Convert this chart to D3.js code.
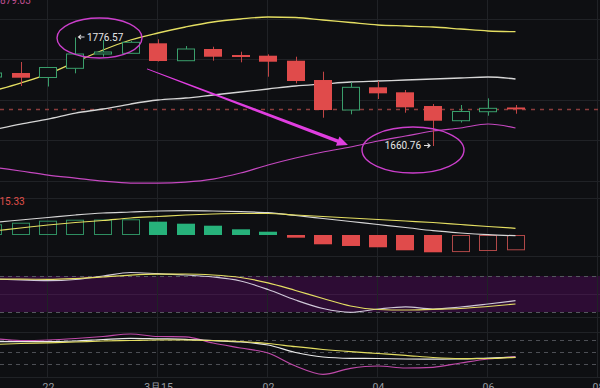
<!DOCTYPE html>
<html><head><meta charset="utf-8">
<script src="https://cdn.jsdelivr.net/npm/d3@7"></script>
<style>html,body{margin:0;padding:0;background:#0e0f12;overflow:hidden}svg{display:block}</style>
</head><body><svg id="c" width="600" height="388"></svg>
<script>
// ---------- DATA ----------
const times = ["2024-03-14 21:00","2024-03-14 21:30","2024-03-14 22:00","2024-03-14 22:30","2024-03-14 23:00","2024-03-14 23:30","2024-03-15 00:00","2024-03-15 00:30","2024-03-15 01:00","2024-03-15 01:30","2024-03-15 02:00","2024-03-15 02:30","2024-03-15 03:00","2024-03-15 03:30","2024-03-15 04:00","2024-03-15 04:30","2024-03-15 05:00","2024-03-15 05:30","2024-03-15 06:00","2024-03-15 06:30"];
const open  = [1734.41,1738.68,1733.88,1743.70,1758.96,1759.71,1770.38,1751.81,1764.30,1757.89,1757.15,1751.81,1731.21,1699.19,1723.42,1718.08,1703.46,1687.77,1697.38,1701.90];
const close = [1738.68,1733.67,1744.55,1758.96,1761.10,1771.45,1751.49,1764.30,1756.08,1755.76,1750.74,1730.14,1699.19,1723.42,1717.01,1702.07,1687.77,1697.59,1701.00,1699.90];
const high  = [1740.82,1750.42,1745.09,1776.57,1773.91,1772.84,1774.65,1767.50,1766.75,1761.42,1758.64,1756.08,1740.07,1728.76,1730.14,1720.54,1705.59,1704.53,1711.68,1704.53];
const low   = [1732.28,1724.81,1724.27,1738.36,1756.08,1759.50,1750.96,1751.49,1751.81,1750.10,1734.73,1727.69,1690.97,1694.60,1710.93,1696.31,1660.76,1685.85,1693.11,1695.24];
const bollUp  = [1719.47,1728.01,1737.61,1750.42,1763.23,1773.91,1781.38,1787.78,1793.12,1796.32,1798.45,1797.92,1795.25,1792.58,1789.92,1788.85,1787.78,1785.65,1783.51,1782.76];
const bollMid = [1677.84,1684.25,1689.58,1695.99,1700.26,1705.59,1709.86,1712.00,1715.20,1718.40,1721.60,1724.81,1726.94,1729.08,1730.14,1731.21,1732.28,1733.35,1734.41,1732.28];
const bollLow = [1638.35,1634.08,1629.81,1626.60,1623.41,1621.27,1621.27,1622.34,1625.54,1631.95,1640.48,1647.96,1654.36,1659.70,1666.10,1671.44,1676.77,1679.98,1684.25,1679.98];
const macdHist = [4.10,4.71,5.48,5.86,5.92,6.02,5.10,4.33,3.56,2.18,1.26,-1.03,-3.56,-4.21,-4.71,-5.86,-6.63,-6.55,-6.13,-5.86];
const macdDif  = [4.79,5.75,6.70,7.66,8.43,8.81,9.20,9.31,9.20,8.93,8.54,7.47,6.32,5.17,4.02,2.87,1.65,0.77,0.11,-0.27];
const macdDea  = [1.53,2.68,3.83,4.79,5.56,6.51,7.09,7.66,8.05,8.24,8.24,7.66,7.09,6.51,5.94,5.36,4.79,4.02,3.26,2.57];
const oscA = [75.0,74.67,74.5,75.83,78.33,81.33,83.0,83.33,81.67,77.5,68.67,55.83,42.5,30.0,24.17,23.33,24.5,25.83,29.17,33.33];
const oscB = [75.0,73.33,72.17,74.17,80.0,85.83,83.83,81.67,78.33,71.67,57.5,40.0,25.83,19.5,25.0,28.67,25.0,28.33,33.33,38.83];
const kdjK = [75.75,75.75,75.75,77.5,81.25,84.25,83,81.75,78.25,75,67.5,48.75,37.5,34.25,33.75,32.5,32,32.5,35,36.75];
const kdjD = [68.75,71.25,73,75,77.5,78.75,80,80,78.75,76.25,71.25,63.25,56.25,50.75,46.25,41.75,36.25,33.5,33.75,36.75];
const kdjJ = [83.75,78.75,80,83.75,88.75,95,88.75,88,72.5,60,47.5,15,-5.75,9.25,15,10,11.75,22.5,32.5,38.25];
const tickTimes  = ["2024-03-14 22:00","2024-03-15 00:00","2024-03-15 02:00","2024-03-15 04:00","2024-03-15 06:00","2024-03-15 08:00"];
const tickLabels = ["22","3月15","02","04","06","08"];
const priceGrid = [1796.3,1753.6,1709.9,1667.2,1623.4];
const macdGrid = [14.2,-8.05];
const oscDash = [80,20];
const kdjDash = [80,50,20];
const maxLabel = "1776.57", minLabel = "1660.76";
const topLabel = "1879.03", macdLabel = "15.33";

// ---------- SCALES ----------
const parse = d3.timeParse("%Y-%m-%d %H:%M");
const T = times.map(parse);
const svg = d3.select("#c");
const W = 600;
const x = d3.scaleTime().domain([parse("2024-03-14 21:00"), parse("2024-03-15 08:00")]).range([-7, 598]);
const y = d3.scaleLinear().domain([1608.5, 1816.6]).range([195, 0]);
const yM = d3.scaleLinear().domain([-8.05, 14.56]).range([256, 197]);
const yO = d3.scaleLinear().domain([0, 100]).range([324, 264]);
const yK = d3.scaleLinear().domain([0, 100]).range([372, 332]);
const step = x(T[1]) - x(T[0]);
const bw = Math.round(step * 0.67);

const BG = "#0e0f12", GRID = "#202226", RED = "#e04b4b", GREEN = "#3a9f6c", GFILL = "#27b27b";
const YEL = "#e4de62", WHT = "#d6d6d6", MAG = "#c548c0";
const FONT = "Roboto, sans-serif";

svg.append("rect").attr("width", 600).attr("height", 388).attr("fill", BG);

// purple zone
svg.append("rect").attr("x", 0).attr("width", W).attr("y", yO(80)).attr("height", yO(20) - yO(80)).attr("fill", "#2d0c34");
svg.append("line").attr("x1", 0).attr("x2", W).attr("y1", yO(50) + 0.5).attr("y2", yO(50) + 0.5).attr("stroke", "#3b1a42");

// grids
const g = svg.append("g");
tickTimes.forEach(t => {
  const xx = Math.round(x(parse(t))) - 0.5;
  g.append("line").attr("x1", xx).attr("x2", xx).attr("y1", 0).attr("y2", 378).attr("stroke", GRID);
});
priceGrid.forEach(p => {
  const yy = Math.round(y(p)) + 0.5;
  g.append("line").attr("x1", 0).attr("x2", W).attr("y1", yy).attr("y2", yy).attr("stroke", GRID);
});
macdGrid.forEach(p => {
  const yy = Math.round(yM(p)) + 0.5;
  g.append("line").attr("x1", 0).attr("x2", W).attr("y1", yy).attr("y2", yy).attr("stroke", GRID);
});
[ yO(11.7), yK(100), 377 ].forEach(v => {
  const yy = Math.round(v) + 0.5;
  g.append("line").attr("x1", 0).attr("x2", W).attr("y1", yy).attr("y2", yy).attr("stroke", GRID);
});
oscDash.forEach(v => {
  const yy = Math.round(yO(v)) + 0.5;
  g.append("line").attr("x1", 0).attr("x2", W).attr("y1", yy).attr("y2", yy).attr("stroke", "#55575e").attr("stroke-dasharray", "4,4");
});
kdjDash.forEach(v => {
  const yy = Math.round(yK(v)) + 0.5;
  g.append("line").attr("x1", 0).attr("x2", W).attr("y1", yy).attr("y2", yy).attr("stroke", "#4d4f55").attr("stroke-dasharray", "4,4");
});

// current price dashed line
const lastY = Math.round(y(close[close.length - 1])) + 0.5;
svg.append("line").attr("x1", 0).attr("x2", W).attr("y1", lastY).attr("y2", lastY)
  .attr("stroke", "#8a3c3c").attr("stroke-width", 1.3).attr("stroke-dasharray", "4,5");

// Bollinger lines
const lineOf = (arr, sc) => d3.line().x((d, i) => x(T[i])).y(d => sc(d)).curve(d3.curveMonotoneX)(arr);
svg.append("path").attr("d", lineOf(bollUp, y)).attr("fill", "none").attr("stroke", YEL).attr("stroke-width", 1.3);
svg.append("path").attr("d", lineOf(bollMid, y)).attr("fill", "none").attr("stroke", WHT).attr("stroke-width", 1.3);
svg.append("path").attr("d", lineOf(bollLow, y)).attr("fill", "none").attr("stroke", MAG).attr("stroke-width", 1.2);

// candles
const cg = svg.append("g");
T.forEach((t, i) => {
  const cx = Math.round(x(t));
  const up = close[i] >= open[i];
  const top = y(Math.max(open[i], close[i])), bot = y(Math.min(open[i], close[i]));
  const x0 = cx - bw / 2;
  if (up) {
    cg.append("line").attr("x1", cx + 0.5).attr("x2", cx + 0.5).attr("y1", y(high[i])).attr("y2", top).attr("stroke", GREEN);
    cg.append("line").attr("x1", cx + 0.5).attr("x2", cx + 0.5).attr("y1", bot).attr("y2", y(low[i])).attr("stroke", GREEN);
    cg.append("rect").attr("x", Math.round(x0) + 0.5).attr("y", top).attr("width", bw - 1).attr("height", Math.max(1, bot - top))
      .attr("fill", BG).attr("stroke", GREEN).attr("stroke-width", 1);
  } else {
    cg.append("line").attr("x1", cx + 0.5).attr("x2", cx + 0.5).attr("y1", y(high[i])).attr("y2", y(low[i])).attr("stroke", "#c24545");
    cg.append("rect").attr("x", Math.round(x0)).attr("y", top).attr("width", bw).attr("height", Math.max(1.5, bot - top)).attr("fill", RED);
  }
});

// MACD histogram
const mg = svg.append("g");
const z = yM(0);
macdHist.forEach((v, i) => {
  const cx = Math.round(x(T[i]));
  const x0 = Math.round(cx - bw / 2);
  const prev = i > 0 ? macdHist[i - 1] : v - 1;
  const yy = yM(v);
  const top = Math.min(yy, z), h = Math.abs(yy - z);
  if (v >= 0) {
    if (v > prev) mg.append("rect").attr("x", x0 + 0.5).attr("y", top + 0.5).attr("width", bw - 1).attr("height", h - 1).attr("fill", "none").attr("stroke", "#2f8f62");
    else mg.append("rect").attr("x", x0).attr("y", top).attr("width", bw).attr("height", h).attr("fill", GFILL);
  } else {
    if (v < prev) mg.append("rect").attr("x", x0).attr("y", top).attr("width", bw).attr("height", h).attr("fill", RED);
    else mg.append("rect").attr("x", x0 + 0.5).attr("y", top + 0.5).attr("width", bw - 1).attr("height", h - 1).attr("fill", "none").attr("stroke", "#b04848");
  }
});
svg.append("path").attr("d", lineOf(macdDif, yM)).attr("fill", "none").attr("stroke", WHT).attr("stroke-width", 1.2);
svg.append("path").attr("d", lineOf(macdDea, yM)).attr("fill", "none").attr("stroke", YEL).attr("stroke-width", 1.2);

// oscillator panel
svg.append("path").attr("d", lineOf(oscB, yO)).attr("fill", "none").attr("stroke", "#cfc8d8").attr("stroke-width", 1.2);
svg.append("path").attr("d", lineOf(oscA, yO)).attr("fill", "none").attr("stroke", YEL).attr("stroke-width", 1.2);

// KDJ panel
svg.append("path").attr("d", lineOf(kdjJ, yK)).attr("fill", "none").attr("stroke", "#c04aaa").attr("stroke-width", 1.2);
svg.append("path").attr("d", lineOf(kdjK, yK)).attr("fill", "none").attr("stroke", "#e8e8e8").attr("stroke-width", 1.2);
svg.append("path").attr("d", lineOf(kdjD, yK)).attr("fill", "none").attr("stroke", YEL).attr("stroke-width", 1.2);

// x axis
const ax = svg.append("g").attr("transform", "translate(0,384)")
  .call(d3.axisBottom(x).tickValues(tickTimes.map(parse)).tickFormat((d, i) => tickLabels[i]).tickSize(0).tickPadding(0));
ax.select(".domain").remove();
ax.selectAll("text").attr("fill", "#9a9ca2").attr("font-family", FONT).attr("font-size", "10.5px");

// labels
svg.append("text").attr("x", -5.6).attr("y", 3.5).attr("fill", "#c24f93").attr("font-family", FONT).attr("font-size", "10px").text(topLabel);
svg.append("text").attr("x", -0.5).attr("y", 205).attr("fill", "#e0504a").attr("font-family", FONT).attr("font-size", "10px").text(macdLabel);

// annotations
const iMax = high.indexOf(d3.max(high)), iMin = low.indexOf(d3.min(low));
const hx = x(T[iMax]), hy = y(high[iMax]);
const lx = x(T[iMin]), ly = y(low[iMin]);
const smallArrow = (x1, x2, yy) => {
  const dir = Math.sign(x2 - x1);
  svg.append("path").attr("d", `M${x1},${yy}L${x2},${yy}M${x2 - dir * 2.5},${yy - 2.2}L${x2},${yy}L${x2 - dir * 2.5},${yy + 2.2}`)
    .attr("fill", "none").attr("stroke", "#e0e0e0").attr("stroke-width", 1.1);
};
svg.append("ellipse").attr("cx", hx + 24).attr("cy", hy + 0.5).attr("rx", 42.5).attr("ry", 20)
  .attr("fill", "none").attr("stroke", "#cc3fcc").attr("stroke-width", 1.4);
smallArrow(hx + 9, hx + 3, hy - 0.5);
svg.append("text").attr("x", hx + 11.5).attr("y", hy + 3.5).attr("fill", "#e8e8e8").attr("font-family", FONT).attr("font-size", "10px").text(maxLabel);
svg.append("ellipse").attr("cx", lx - 20).attr("cy", ly + 4).attr("rx", 51).attr("ry", 23)
  .attr("fill", "none").attr("stroke", "#cc3fcc").attr("stroke-width", 1.4);
svg.append("text").attr("x", lx - 12).attr("y", ly + 3).attr("text-anchor", "end").attr("fill", "#e8e8e8").attr("font-family", FONT).attr("font-size", "10px").text(minLabel);
smallArrow(lx - 9, lx - 3, ly - 0.5);

// tapered arrow
const sx = x(T[6]) - 11, sy = y(1743.1);
const ex = x(T[13]) - 2.5, ey = y(1661.8);
const dx = ex - sx, dy = ey - sy, L = Math.hypot(dx, dy);
const ux = dx / L, uy = dy / L, nx = -uy, ny = ux;
const hl = 11, bx = ex - ux * hl, by = ey - uy * hl;
const pts = [
  [sx + nx * 0.5, sy + ny * 0.5], [bx + nx * 1.8, by + ny * 1.8], [bx + nx * 5, by + ny * 5], [ex, ey],
  [bx - nx * 5, by - ny * 5], [bx - nx * 1.8, by - ny * 1.8], [sx - nx * 0.5, sy - ny * 0.5]
];
svg.append("path").attr("d", "M" + pts.map(p => p.join(",")).join("L") + "Z").attr("fill", "#e03ee0");
</script></body></html>
